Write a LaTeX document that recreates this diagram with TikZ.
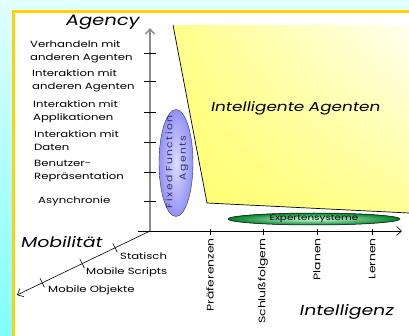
\documentclass[tikz,border=0pt]{standalone}
\usepackage{fontspec}
\setmainfont{Poppins}[FakeStretch=1.3]
\newfontfamily\ttlfont{Poppins}[FakeStretch=1.3,FakeSlant=0.2]
\newfontfamily\spcfont{Poppins}[FakeStretch=1.2,LetterSpace=15]
\usetikzlibrary{arrows.meta,shapes.geometric,shadings}
\definecolor{bordergold}{RGB}{255,210,0}
\definecolor{ffblue}{RGB}{100,100,240}
\definecolor{fftext}{RGB}{50,50,120}
\definecolor{esdark}{RGB}{0,130,40}
\definecolor{eslight}{RGB}{210,255,225}
\definecolor{axgray}{RGB}{140,140,140}
\begin{document}
\begin{tikzpicture}[x=1pt,y=-1pt,
  lbl/.style={font=\fontsize{9}{13}\selectfont, align=left, anchor=west, inner sep=0pt},
  rlbl/.style={font=\fontsize{9.5}{11}\selectfont, rotate=90, anchor=east, inner sep=0pt},
  ttl/.style={font=\ttlfont\fontsize{15}{15}\selectfont, inner sep=0pt},
  tickline/.style={line width=0.6pt},
  axisline/.style={line width=0.6pt, -{Straight Barb[length=5pt,width=9pt]}},
  fflabel/.style={rotate=90, font=\spcfont\fontsize{9}{9}\selectfont, text=fftext, inner sep=0pt},
]
\useasboundingbox (0,0) rectangle (409,336);
% background and panel
\shade[top color=cyan!12, bottom color=cyan!50] (0,0) rectangle (409,336);
\draw[bordergold, line width=3pt, fill=white] (13.5,11.5) rectangle (430,360);
% yellow region
\coordinate (ya) at (173,25);
\coordinate (yb) at (207,203);
\coordinate (yc) at (409,213);
\coordinate (yd) at (409,25);
\shade[upper left=yellow!45, lower left=yellow!58, lower right=yellow!42, upper right=yellow!6]
  (ya) -- (yb) -- (yc) -- (yd) -- cycle;
\draw[line width=0.7pt] (ya) -- (yb) -- (yc);
% axes
\coordinate (o) at (150,231);
\coordinate (vt) at (150,28);
\coordinate (hl) at (138,231);
\coordinate (hr) at (402,231);
\coordinate (mo) at (17,295);
\draw[axisline, axgray, line width=1.4pt] (o) -- (vt);
\draw[axisline] (hl) -- (hr);
\draw[axisline] (o) -- (mo);
% vertical ticks
\foreach \y [count=\i] in {53,81,112,142,172,201} {
  \coordinate (va\i) at (150,\y);
  \draw[tickline] ([xshift=-6pt]va\i) -- ([xshift=6pt]va\i);
}
% horizontal ticks
\foreach \x [count=\i] in {210,263,317,372} {
  \coordinate (ha\i) at (\x,231);
  \draw[tickline] ([yshift=2pt]ha\i) -- ([yshift=-4pt]ha\i);
}
% mobility ticks
\path (o) -- (mo) coordinate[pos=0.263] (ma1) coordinate[pos=0.51] (ma2) coordinate[pos=0.81] (ma3);
\foreach \i in {1,2,3} {
  \draw[tickline] (ma\i) ++(2.2,4.5) -- ++(-4.4,-9);
}
% agency labels
\node[lbl] (l1) at (30,51.5) {Verhandeln mit\\anderen Agenten};
\node[lbl] (l2) at (32,80.5) {Interaktion mit\\anderen Agenten};
\node[lbl] (l3) at (33,112) {Interaktion mit\\Applikationen};
\node[lbl] (l4) at (34,141) {Interaktion mit\\Daten};
\node[lbl] (l5) at (34,171) {Benutzer-\\Repräsentation};
\node[lbl] (l6) at (38,201) {Asynchronie};
% intelligence labels
\node[rlbl] (i1) at (210,238) {Präferenzen};
\node[rlbl] (i2) at (263,238) {Schlußfolgern};
\node[rlbl] (i3) at (317,238) {Planen};
\node[rlbl] (i4) at (372,238) {Lernen};
% mobility labels
\node[lbl] (m1) at (120,256) {Statisch};
\node[lbl] (m2) at (86,272) {Mobile Scripts};
\node[lbl] (m3) at (48,290) {Mobile Objekte};
% titles
\node[ttl] (tag) at (102,22) {Agency};
\node[ttl, font=\ttlfont\fontsize{14.5}{14.5}\selectfont] (tmo) at (61,242) {Mobilität};
\node[ttl, font=\ttlfont\fontsize{14.5}{14.5}\selectfont] (tin) at (346,312) {Intelligenz};
\node[ttl, font=\ttlfont\fontsize{13}{13}\selectfont] (tia) at (295,108) {Intelligente Agenten};
% fixed function agents
\node[ellipse, draw=ffblue!50!black, inner color=ffblue!22, outer color=ffblue!70,
  minimum width=34pt, minimum height=107pt, inner sep=0pt] (ff) at (176,163) {};
\node[fflabel] (fft) at (169,162) {Fixed Function};
\node[fflabel] (ffa) at (184,158) {Agents};
% expertensysteme
\node[ellipse, draw=black, line width=0.5pt, inner color=eslight, outer color=esdark,
  minimum width=172pt, minimum height=12pt, inner sep=0pt,
  font=\fontsize{8}{8}\selectfont] (es) at (314,219) {Expertensysteme};
\end{tikzpicture}
\end{document}
